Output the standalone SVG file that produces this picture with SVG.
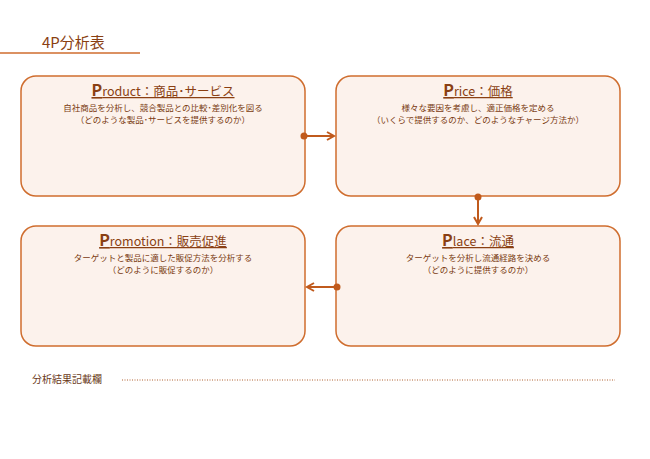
<svg xmlns="http://www.w3.org/2000/svg" width="650" height="459" viewBox="0 0 650 459">
<style>
.box{fill:#fcf2ec;stroke:#cf6d2e;stroke-width:1.5}
.h{font-family:"Noto Sans CJK JP","Noto Sans",sans-serif;font-size:12.5px;fill:#8a3f12;text-anchor:middle;text-decoration:underline}
.hp{font-size:16px;font-weight:bold}
.d{font-family:"Noto Sans CJK JP",sans-serif;font-size:8.5px;fill:#7a3a10;text-anchor:middle}
.c{stroke:#c05a1c;stroke-width:2;fill:none}
</style>
<defs><marker id="a" viewBox="0 0 10 10" refX="8" refY="5" markerWidth="5" markerHeight="5" orient="auto"><path d="M1,1 L8,5 L1,9" fill="none" stroke="#c05a1c" stroke-width="2"/></marker></defs>
<rect width="650" height="459" fill="#fff"/>
<g id="title"><text x="42" y="48" font-family="Noto Sans CJK JP,sans-serif" font-size="15" fill="#8a3f12">4P分析表</text><line x1="0" y1="53" x2="140" y2="53" stroke="#cf6d2e" stroke-width="1.5"/></g>
<g id="product"><rect class="box" x="21" y="76" width="284" height="120" rx="15"/><text class="h" x="163" y="96"><tspan class="hp">P</tspan>roduct：商品･サービス</text><text class="d" x="163" y="111">自社商品を分析し、競合製品との比較･差別化を図る</text><text class="d" x="163" y="123">（どのような製品･サービスを提供するのか）</text></g>
<g id="price"><rect class="box" x="336" y="76" width="284" height="120" rx="15"/><text class="h" x="478" y="96"><tspan class="hp">P</tspan>rice：価格</text><text class="d" x="478" y="111">様々な要因を考慮し、適正価格を定める</text><text class="d" x="478" y="123">（いくらで提供するのか、どのようなチャージ方法か）</text></g>
<g id="promotion"><rect class="box" x="21" y="226" width="284" height="120" rx="15"/><text class="h" x="163" y="246"><tspan class="hp">P</tspan>romotion：販売促進</text><text class="d" x="163" y="261">ターゲットと製品に適した販促方法を分析する</text><text class="d" x="163" y="273">（どのように販促するのか）</text></g>
<g id="place"><rect class="box" x="336" y="226" width="284" height="120" rx="15"/><text class="h" x="478" y="246"><tspan class="hp">P</tspan>lace：流通</text><text class="d" x="478" y="261">ターゲットを分析し流通経路を決める</text><text class="d" x="478" y="273">（どのように提供するのか）</text></g>
<g id="connectors" fill="#c05a1c">
<circle cx="304" cy="136" r="3.5"/><line class="c" x1="304" y1="136" x2="334" y2="136" marker-end="url(#a)"/>
<circle cx="478" cy="197" r="3.5"/><line class="c" x1="478" y1="197" x2="478" y2="224" marker-end="url(#a)"/>
<circle cx="337" cy="287" r="3.5"/><line class="c" x1="337" y1="287" x2="307" y2="287" marker-end="url(#a)"/>
</g>
<g id="notes"><text x="32" y="383" font-family="Noto Sans CJK JP,sans-serif" font-size="10" fill="#6b3a1a">分析結果記載欄</text><line x1="122" y1="380" x2="615" y2="380" stroke="#b06030" stroke-width="1" stroke-dasharray="1,1.5"/></g>
</svg>
